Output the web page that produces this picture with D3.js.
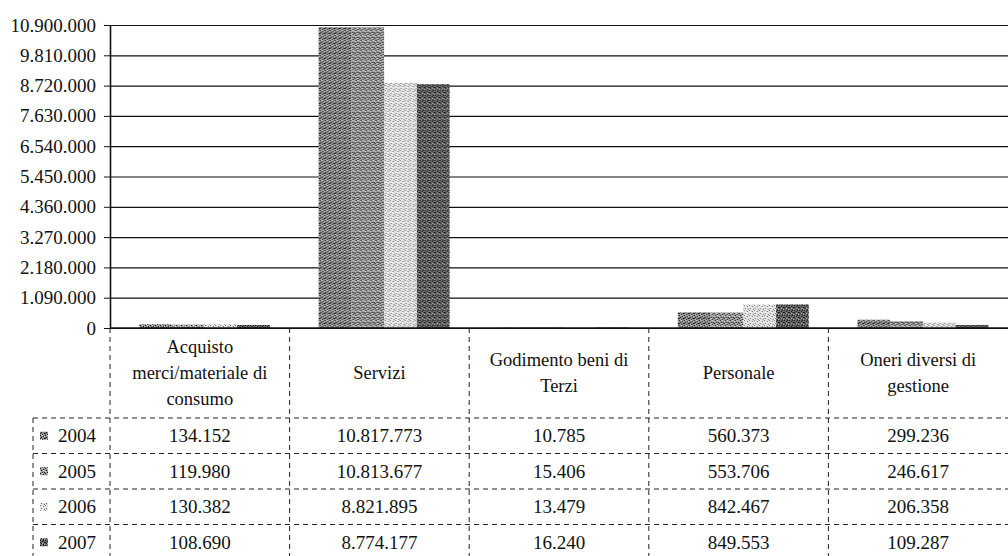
<!DOCTYPE html>
<html>
<head>
<meta charset="utf-8">
<script src="https://cdn.jsdelivr.net/npm/d3@7"></script>
<style>
	body { margin: 0; background: #fff; }
	svg, svg text { font-family: "Liberation Serif", "Times New Roman", "DejaVu Serif", serif; }
</style>
</head>
<body>
<svg></svg>
<script>
// data
const categories = [
	"Acquisto\nmerci/materiale di\nconsumo",
	"Servizi",
	"Godimento beni di\nTerzi",
	"Personale",
	"Oneri diversi di\ngestione",
];
const years = ["2004", "2005", "2006", "2007"];
const v2004 = [134152, 10817773, 10785, 560373, 299236];
const v2005 = [119980, 10813677, 15406, 553706, 246617];
const v2006 = [130382, 8821895, 13479, 842467, 206358];
const v2007 = [108690, 8774177, 16240, 849553, 109287];
const yTicks = [0, 1090000, 2180000, 3270000, 4360000, 5450000, 6540000, 7630000, 8720000, 9810000, 10900000];

const series = [v2004, v2005, v2006, v2007];
const size = { w: 1008, h: 556 };
const plot = { l: 110, r: 1008, t: 25, b: 328 };
const serif = "Liberation Serif, Times New Roman, DejaVu Serif, serif";
const svg = d3.select("svg").attr("width", size.w).attr("height", size.h)
	.attr("font-family", serif);

const it = d3.formatLocale({ decimal: ",", thousands: ".", grouping: [3], currency: ["€", ""] });
const fmt = it.format(",d");

// stippled fills, like the scanned print (5px tiles, hand placed dots)
const defs = svg.append("defs");
const fills = [
	{ bg: "#8c8c8c", dot: "#1a1a1a", light: "#d8d8d8", spots: [[0,0],[3,1],[1,2],[4,3],[2,4],[0,3]], lspots: [[2,0],[4,1],[1,4]] },
	{ bg: "#9a9a9a", dot: "#222", light: "#e0e0e0", spots: [[1,0],[4,2],[0,3],[2,2],[3,4]], lspots: [[3,0],[0,1],[2,3]] },
	{ bg: "#e2e2e2", dot: "#6a6a6a", light: "#fff", spots: [[0,0],[3,1],[1,3],[4,4]], lspots: [[2,2],[4,0],[0,4]] },
	{ bg: "#707070", dot: "#111", light: "#bbb", spots: [[0,0],[2,1],[4,2],[1,3],[3,4],[3,0],[0,2]], lspots: [[2,3],[4,4]] },
];
fills.forEach((f, i) => {
	let p = defs.append("pattern").attr("id", "pat" + i)
		.attr("width", 5).attr("height", 5).attr("patternUnits", "userSpaceOnUse");
	p.append("rect").attr("width", 5).attr("height", 5).attr("fill", f.bg);
	p.selectAll("rect.d").data(f.spots).enter().append("rect").classed("d", true)
		.attr("x", d => d[0]).attr("y", d => d[1]).attr("width", 1).attr("height", 1)
		.attr("fill", f.dot);
	p.selectAll("rect.l").data(f.lspots).enter().append("rect").classed("l", true)
		.attr("x", d => d[0]).attr("y", d => d[1]).attr("width", 1).attr("height", 1)
		.attr("fill", f.light);
});

let y = d3.scaleLinear().domain([0, 10900000]).range([plot.b, plot.t]);
let x0 = d3.scaleBand().domain(categories).range([plot.l, plot.r]);
let x1 = d3.scaleBand().domain(years).range([29, 160]);

// grid
svg.append("g").attr("transform", `translate(${plot.l},0)`)
	.call(d3.axisLeft(y).tickValues(yTicks).tickSize(-(plot.r - plot.l)).tickFormat(""))
	.call(g => g.select(".domain").remove())
	.selectAll("line").attr("stroke", "#111").attr("stroke-width", 1.2);

// bars
let groups = svg.append("g").selectAll("g")
	.data(categories).enter().append("g")
	.attr("transform", d => `translate(${x0(d)},0)`);
groups.selectAll("rect")
	.data((d, ci) => years.map((yr, si) => ({ yr, si, v: series[si][ci] })))
	.enter().append("rect")
	.attr("x", d => x1(d.yr))
	.attr("width", x1.bandwidth())
	.attr("y", d => y(d.v))
	.attr("height", d => y(0) - y(d.v))
	.attr("fill", d => `url(#pat${d.si})`);

// axis
let yAxis = svg.append("g").attr("transform", `translate(${plot.l},0)`)
	.call(d3.axisLeft(y).tickValues(yTicks).tickSize(6).tickSizeOuter(0).tickPadding(8).tickFormat(fmt))
	.attr("font-family", serif).attr("font-size", 19);
yAxis.select(".domain").attr("stroke", "#111").attr("stroke-width", 1.6);
yAxis.selectAll("line").attr("stroke", "#111");
yAxis.selectAll("text").attr("fill", "#111");

svg.append("line").attr("x1", plot.l).attr("x2", plot.r)
	.attr("y1", y(0)).attr("y2", y(0)).attr("stroke", "#111").attr("stroke-width", 1.6);

// data table
const dash = "5,4";
const rowTop = 418, rowH = 35.5, legL = 33;
let tbl = svg.append("g").attr("fill", "none").attr("stroke", "#222").attr("stroke-dasharray", dash);
let edges = categories.map(c => x0(c));
edges.forEach(ex => {
	tbl.append("line").attr("x1", ex).attr("x2", ex).attr("y1", plot.b).attr("y2", size.h);
});
tbl.append("line").attr("x1", legL).attr("x2", legL).attr("y1", rowTop).attr("y2", size.h);
years.forEach((yr, i) => {
	tbl.append("line").attr("x1", legL).attr("x2", plot.r)
		.attr("y1", rowTop + i * rowH).attr("y2", rowTop + i * rowH);
});

// header labels
let head = svg.append("g").attr("font-size", 18.5).attr("fill", "#111").attr("text-anchor", "middle");
categories.forEach(c => {
	let lines = c.split("\n");
	let cy = (plot.b + rowTop) / 2;
	lines.forEach((ln, i) => {
		head.append("text")
			.attr("x", x0(c) + x0.bandwidth() / 2)
			.attr("y", cy + (i - (lines.length - 1) / 2) * 26)
			.attr("dy", "0.35em")
			.text(ln);
	});
});

// rows
let rows = svg.append("g").attr("font-size", 19).attr("fill", "#111");
years.forEach((yr, si) => {
	let cy = rowTop + si * rowH + rowH / 2;
	rows.append("rect").attr("x", 40).attr("y", cy - 4).attr("width", 8).attr("height", 8)
		.attr("fill", `url(#pat${si})`);
	rows.append("text").attr("x", 58).attr("y", cy).attr("dy", "0.35em").text(yr);
	categories.forEach((c, ci) => {
		rows.append("text")
			.attr("x", x0(c) + x0.bandwidth() / 2)
			.attr("y", cy).attr("dy", "0.35em")
			.attr("text-anchor", "middle")
			.text(fmt(series[si][ci]));
	});
});
</script>
</body>
</html>
